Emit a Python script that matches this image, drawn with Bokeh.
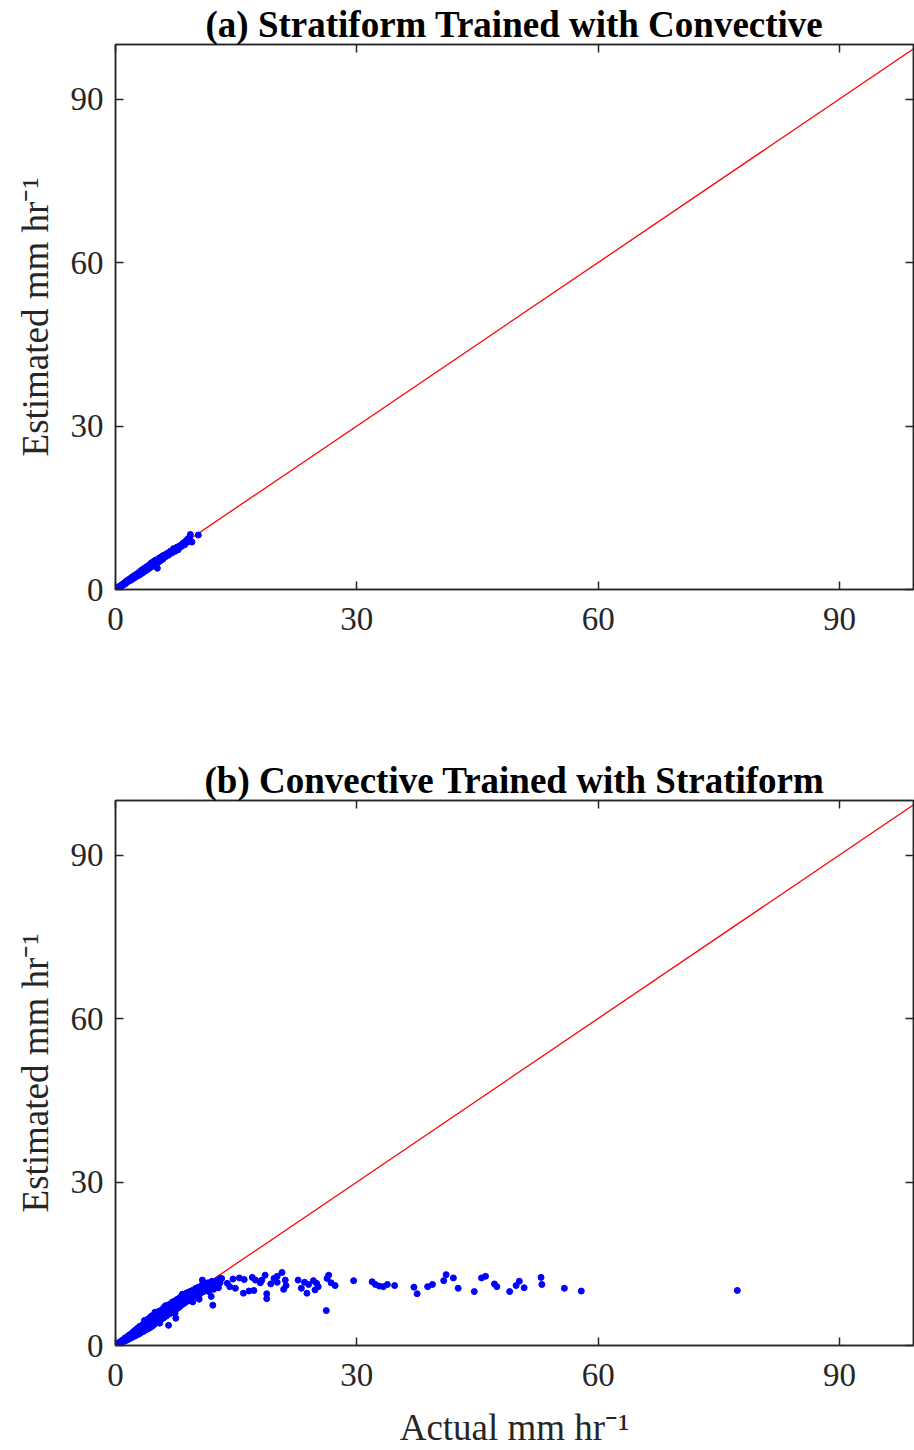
from bokeh.plotting import figure
from bokeh.layouts import column
from bokeh.models import Range1d, FixedTicker, LinearAxis
from bokeh.embed import file_html
from bokeh.resources import INLINE

# ---- data: panel (a) Stratiform trained with Convective ----
a_actual = [0.1, 0.2, 0.3, 0.4, 0.5, 0.6, 0.7, 0.8, 0.9, 1.0,
            1.1, 1.2, 1.3, 1.4, 1.5, 1.6, 1.7, 1.8, 1.9, 2.0,
            2.1, 2.2, 2.3, 2.4, 2.5, 2.6, 2.7, 2.8, 2.9, 3.0,
            3.1, 3.2, 3.3, 3.4, 3.5, 3.6, 3.7, 3.8, 3.9, 4.0,
            4.1, 4.2, 4.3, 4.4, 4.5, 4.6, 4.7, 4.8, 4.9, 5.0,
            5.1, 5.2, 5.3, 5.4, 5.5, 5.6, 5.7, 5.8, 5.9, 6.0,
            6.2, 6.4, 6.6, 6.8, 7.0, 7.2, 7.4, 7.6, 7.8, 8.0,
            8.2, 8.4, 8.6, 8.8, 9.0, 9.2, 9.3, 9.5, 10.3, 9.0,
            0.15, 0.35, 0.55, 0.75, 0.95, 1.25, 1.45, 1.65, 1.85, 2.15,
            2.45, 2.75, 3.05, 3.35, 3.65, 3.95, 4.25, 4.55, 4.85, 5.15,
            5.45, 5.75, 6.1, 6.5, 6.9, 7.3, 7.7, 8.1, 8.5]
a_estimated = [0.1, 0.2, 0.4, 0.3, 0.6, 0.5, 0.8, 0.7, 1.0, 0.9,
               1.2, 1.0, 1.5, 1.3, 1.4, 1.8, 1.6, 1.9, 1.7, 2.2,
               1.9, 2.4, 2.1, 2.6, 2.3, 2.8, 2.5, 3.0, 2.6, 3.2,
               2.8, 3.5, 3.0, 3.7, 3.2, 3.9, 3.4, 4.1, 3.6, 4.3,
               3.8, 4.5, 4.0, 4.8, 4.2, 5.0, 4.4, 5.2, 4.6, 5.4,
               4.7, 3.9, 5.0, 5.7, 5.2, 5.9, 5.4, 6.1, 5.6, 6.3,
               6.0, 6.6, 6.3, 7.0, 6.7, 7.5, 7.0, 7.7, 7.3, 8.0,
               7.9, 8.5, 8.2, 9.0, 8.7, 9.5, 10.1, 8.7, 10.0, 9.3,
               0.2, 0.3, 0.5, 0.8, 0.9, 1.3, 1.5, 1.6, 2.0, 2.1,
               2.5, 2.7, 3.1, 3.3, 3.7, 3.9, 4.3, 4.5, 4.9, 5.1,
               5.5, 5.6, 6.2, 6.4, 7.0, 7.2, 7.8, 8.1, 8.6]

# ---- data: panel (b) Convective trained with Stratiform ----
b_actual = [0.1, 0.2, 0.3, 0.4, 0.5, 0.6, 0.7, 0.8, 0.9, 1.0,
            1.1, 1.2, 1.3, 1.4, 1.5, 1.6, 1.7, 1.8, 1.9, 2.0,
            2.1, 2.2, 2.3, 2.4, 2.5, 2.6, 2.7, 2.8, 2.9, 3.0,
            3.1, 3.2, 3.3, 3.4, 3.5, 3.6, 3.7, 3.8, 3.9, 4.0,
            4.1, 4.2, 4.3, 4.4, 4.5, 4.6, 4.7, 4.8, 4.9, 5.0,
            5.1, 5.2, 5.3, 5.4, 5.5, 5.6, 5.7, 5.8, 5.9, 6.0,
            6.1, 6.2, 6.4, 6.5, 6.6, 6.7, 6.8, 7.0, 7.1, 7.3,
            7.4, 7.5, 7.6, 7.7, 7.9, 8.0, 8.1, 8.3, 8.4, 8.5,
            8.7, 8.8, 9.0, 9.1, 9.2, 9.4, 9.5, 9.7, 9.8, 10.0,
            10.1, 10.3, 10.4, 10.5, 10.7, 10.8, 11.0, 11.1, 11.3, 11.5,
            11.6, 11.8, 12.0, 12.2, 12.4, 12.6, 12.8, 13.0, 13.2, 12.1,
            0.25, 0.45, 0.65, 0.85, 1.05, 1.25, 1.45, 1.65, 1.85, 2.05,
            2.35, 2.65, 2.95, 3.25, 3.55, 3.85, 4.15, 4.45, 4.75, 5.05,
            5.35, 5.65, 5.95, 6.3, 6.6, 6.9, 7.2, 7.5, 7.8, 8.2,
            8.6, 9.0, 9.3, 9.6, 9.9, 10.2, 10.6, 10.9, 11.2, 11.7, 12.3,
            3.6, 4.2, 4.9, 5.5, 6.2, 7.4, 8.3, 9.6, 10.8, 11.9,
            13.0, 13.9, 14.2, 14.6, 14.9, 15.4, 15.9, 16.0, 16.6, 17.0,
            17.2, 17.4, 18.0, 18.2, 18.6, 18.8, 18.8, 19.3, 19.7, 20.1,
            20.1, 20.7, 20.9, 21.1, 21.2, 22.7, 23.1, 23.5, 23.8, 24.0,
            24.6, 24.8, 25.0, 25.2, 26.2, 26.3, 26.5, 26.8, 27.3, 29.6,
            31.9, 32.3, 32.8, 33.3, 33.8, 34.7, 37.1, 37.5, 38.8, 39.4,
            40.8, 41.1, 42.0, 42.6, 44.6, 45.5, 46.0, 47.1, 47.4, 49.0,
            49.8, 50.2, 50.8, 52.9, 53.0, 55.8, 57.9, 77.3]
b_estimated = [0.1, 0.3, 0.2, 0.5, 0.3, 0.7, 0.5, 0.9, 0.6, 1.1,
               0.8, 1.4, 0.9, 1.5, 1.1, 1.8, 1.2, 2.0, 1.4, 2.2,
               1.5, 2.5, 1.7, 2.7, 1.8, 3.0, 2.0, 3.2, 2.1, 3.5,
               2.3, 3.6, 2.5, 3.9, 2.6, 4.1, 2.8, 4.4, 3.0, 4.8,
               3.1, 5.0, 3.3, 5.3, 3.5, 5.5, 3.7, 5.2, 4.0, 5.8,
               4.2, 6.0, 4.4, 6.3, 4.6, 5.9, 4.8, 6.6, 5.0, 6.9,
               5.2, 7.1, 5.5, 7.4, 3.7, 5.8, 7.6, 6.0, 8.0, 6.3,
               8.2, 5.0, 6.7, 8.5, 7.0, 8.8, 7.3, 9.0, 7.6, 9.3,
               7.9, 9.6, 8.2, 9.8, 8.5, 10.0, 8.8, 10.2, 9.0, 10.5,
               9.2, 10.7, 8.5, 9.5, 11.0, 9.8, 11.2, 10.0, 10.6, 11.5,
               9.9, 10.8, 11.8, 10.3, 11.2, 11.9, 10.6, 11.5, 12.3, 7.4,
               0.2, 0.4, 0.6, 0.7, 0.9, 1.1, 1.3, 1.5, 1.7, 1.8,
               2.1, 2.4, 2.7, 3.0, 3.2, 3.5, 3.9, 4.2, 4.5, 4.9,
               5.1, 5.4, 5.8, 6.1, 6.4, 6.8, 7.1, 7.3, 7.7, 8.1,
               8.5, 8.9, 9.2, 9.5, 9.7, 9.9, 10.3, 10.6, 10.9, 11.3, 11.6,
               4.6, 3.8, 6.1, 4.1, 7.3, 5.9, 9.4, 8.0, 12.0, 9.0,
               12.3, 11.4, 10.8, 12.2, 10.5, 12.4, 9.6, 12.1, 10.0, 12.5,
               10.1, 12.0, 11.5, 12.0, 12.9, 9.5, 8.6, 11.3, 12.3, 12.7,
               11.6, 13.4, 10.3, 12.0, 11.0, 12.0, 10.5, 11.6, 9.6, 11.2,
               11.9, 10.2, 11.4, 10.8, 6.4, 12.3, 12.9, 11.5, 11.0, 11.9,
               11.7, 11.2, 10.9, 10.8, 11.2, 11.0, 10.7, 9.5, 10.8, 11.2,
               11.9, 13.0, 12.4, 10.5, 9.9, 12.4, 12.7, 11.3, 10.8, 9.9,
               11.0, 11.8, 10.6, 12.5, 11.2, 10.5, 10.0, 10.1]

ref_line = [0, 100]
ticks = [0, 30, 60, 90]
titles = ["(a) Stratiform Trained with Convective", "(b) Convective Trained with Stratiform"]

FONT = "Liberation Serif"
AX = "#262626"


def make_panel(xs, ys, title, height, border_bottom, show_xlabel):
    p = figure(width=914, height=height, output_backend="svg", toolbar_location=None,
               x_range=Range1d(0, 99.2), y_range=Range1d(0, 100),
               frame_width=798, frame_height=545,
               min_border_left=115, min_border_right=1, min_border_top=44,
               min_border_bottom=border_bottom,
               x_axis_label="Actual mm hr\u207b\u00b9" if show_xlabel else None,
               y_axis_label="Estimated mm hr\u207b\u00b9")
    p.title.text = title
    p.title.align = "center"
    p.title.text_font = FONT
    p.title.text_font_style = "bold"
    p.title.text_font_size = "37px"
    p.title.text_color = "black"
    p.title.offset = 0
    p.title.standoff = 0
    p.grid.visible = False
    p.outline_line_color = AX
    p.outline_line_width = 1.5
    p.background_fill_color = "white"
    p.border_fill_color = "white"

    for ax in p.xaxis + p.yaxis:
        ax.ticker = FixedTicker(ticks=ticks)
        ax.major_tick_in = 8
        ax.major_tick_out = 0
        ax.minor_tick_line_color = None
        ax.axis_line_color = AX
        ax.axis_line_width = 1.5
        ax.major_tick_line_color = AX
        ax.major_tick_line_width = 1.5
        ax.major_label_text_font = FONT
        ax.major_label_text_font_size = "33px"
        ax.major_label_text_color = "#262626"
        ax.axis_label_text_font = FONT
        ax.axis_label_text_font_size = "37px"
        ax.axis_label_text_font_style = "normal"
        ax.axis_label_text_color = "#262626"
    p.xaxis.major_label_standoff = 18
    p.yaxis.major_label_standoff = 12
    p.yaxis.axis_label_standoff = 12
    p.xaxis.axis_label_standoff = 18

    for side in ("above", "right"):
        extra = LinearAxis(ticker=FixedTicker(ticks=ticks), major_tick_in=8, major_tick_out=0,
                           minor_tick_line_color=None, axis_line_color=AX, axis_line_width=1.5,
                           major_tick_line_color=AX, major_tick_line_width=1.5,
                           major_label_text_color=None, major_label_text_font_size="1px",
                           major_label_standoff=0)
        p.add_layout(extra, side)

    p.line(ref_line, ref_line, line_color="red", line_width=1.3)
    p.scatter(xs, ys, size=6, fill_color="blue", line_color="blue", marker="circle")
    return p


top = make_panel(a_actual, a_estimated, titles[0], 756, 167, False)
bottom = make_panel(b_actual, b_estimated, titles[1], 694, 106, True)

layout = column(top, bottom, spacing=0)
open("out.html", "w").write(file_html(layout, INLINE))
